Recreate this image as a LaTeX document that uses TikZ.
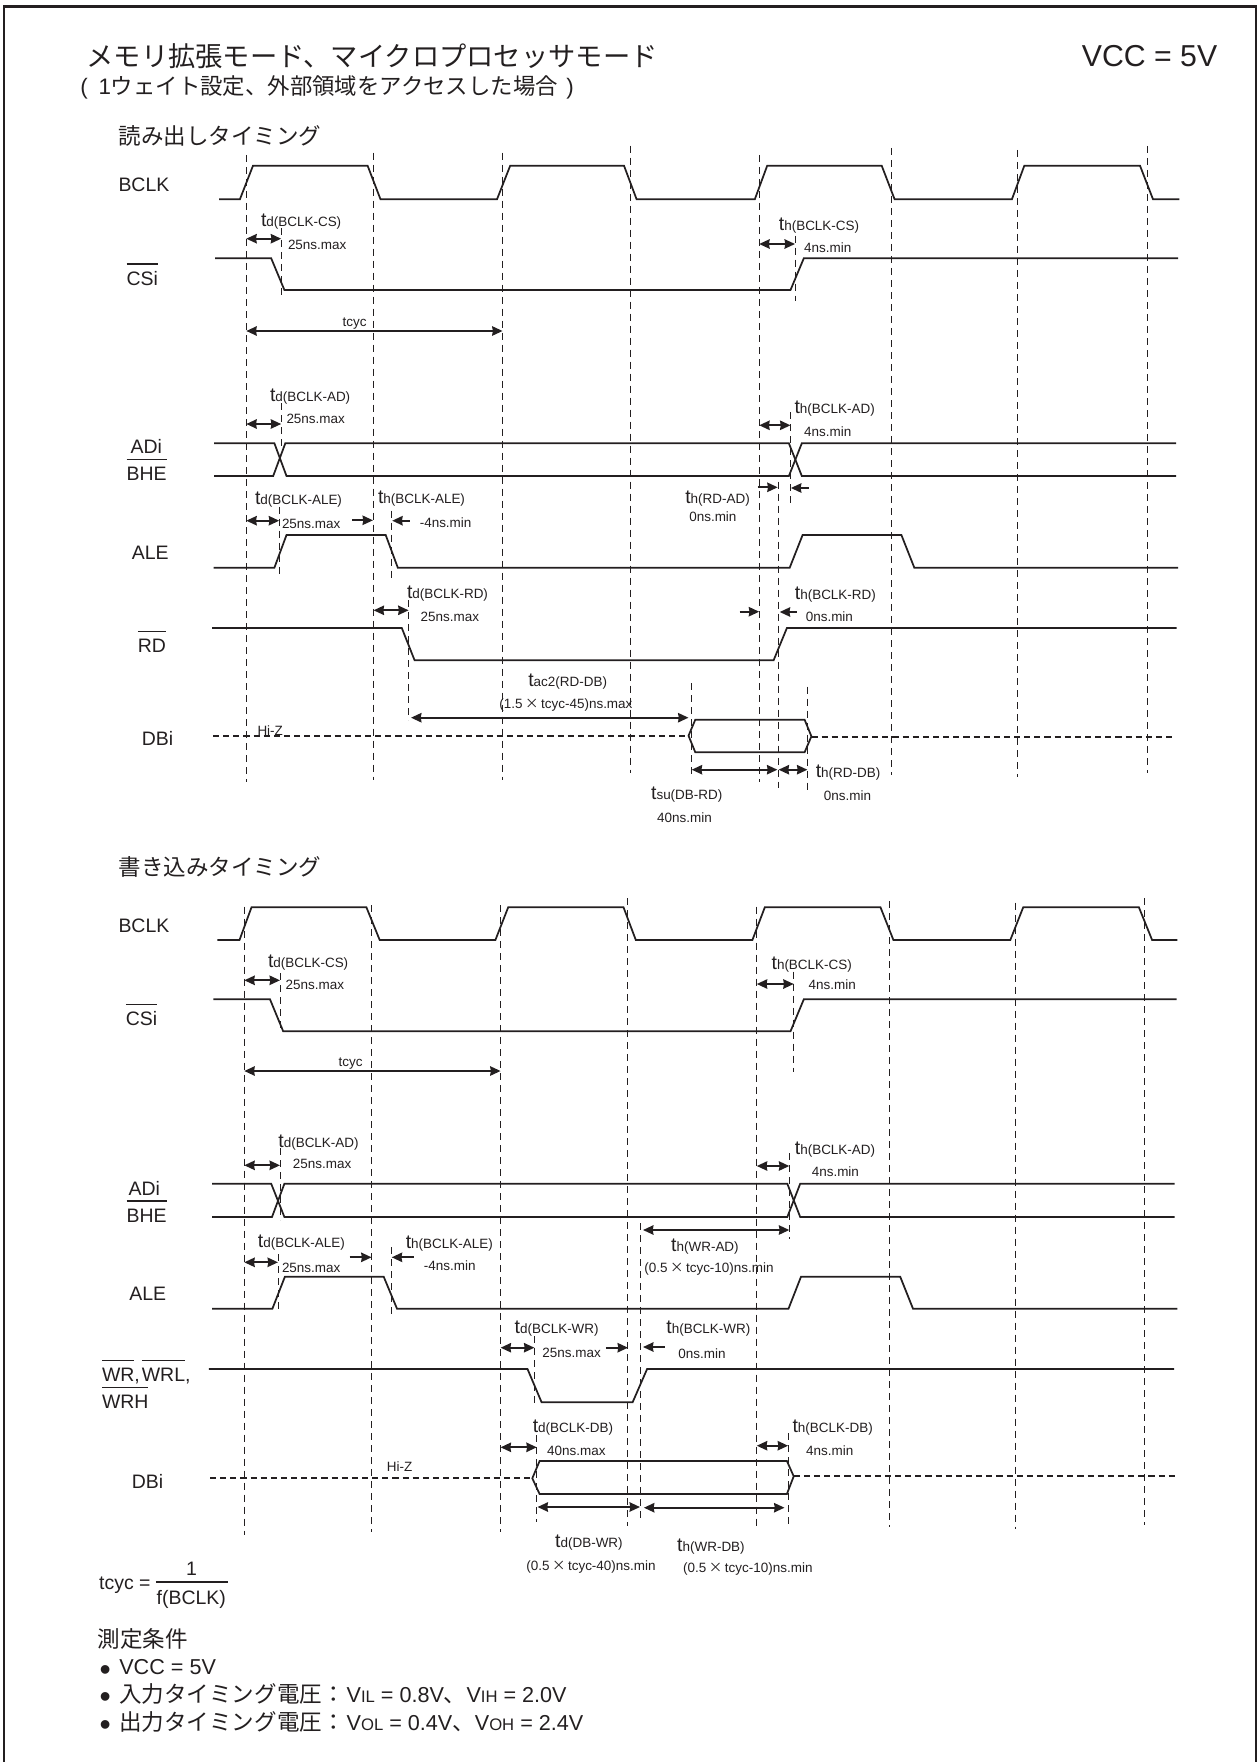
\documentclass[tikz,border=0pt]{standalone}
\usepackage{fontspec}
\usetikzlibrary{arrows.meta}
\setmainfont{Liberation Sans}
\newfontfamily\jp{Noto Sans CJK JP}
\definecolor{ink}{HTML}{231F20}
\newcommand\bigfs{\fontsize{14.6pt}{16pt}\selectfont}
\newcommand\smfs{\fontsize{10.1pt}{12pt}\selectfont}
\newcommand\tm[1]{{\bigfs t}{\smfs #1}}
\newcommand\ovl[1]{\leavevmode\setbox0=\hbox{#1}\rlap{\raisebox{15.2pt}{\rule{\wd0}{1.1pt}}}\box0}
\newcommand\vsub[1]{V{\fontsize{12.5pt}{12pt}\selectfont #1}}
\newcommand\tms{\hspace{1.9pt}{\jp ×}\hspace{1.9pt}}
\newcommand\jc{\fontsize{16.9pt}{18pt}\selectfont\jp}
\newcommand\fwc{\symbol{"FF1A}}
\tikzset{
  lab/.style={anchor=base west,inner sep=0pt,outer sep=0pt,text=ink,font=\bigfs},
  sm/.style={lab,font=\smfs},
  jtxt/.style={lab,font=\fontsize{16.9pt}{18pt}\selectfont\jp},
  cond/.style={lab,font=\fontsize{16.2pt}{18pt}\selectfont},
  bull/.style={lab,font=\fontsize{24pt}{24pt}\selectfont},
  wave/.style={draw=ink,line width=1.3pt,line join=miter},
  hiz/.style={draw=ink,line width=1.3pt,dash pattern=on 4.6pt off 3pt},
  guide/.style={draw=ink,line width=0.8pt,dash pattern=on 5.2pt off 3.8pt},
  dim/.style={draw=ink,line width=1.5pt,{Stealth[length=7.8pt,width=7pt,inset=0.5pt]}-{Stealth[length=7.8pt,width=7pt,inset=0.5pt]}},
  rarr/.style={draw=ink,line width=1.5pt,-{Stealth[length=7.8pt,width=7pt,inset=0.5pt]}},
  larr/.style={draw=ink,line width=1.5pt,{Stealth[length=7.8pt,width=7pt,inset=0.5pt]}-},
}
\begin{document}
\begin{tikzpicture}[x=0.75pt,y=-0.75pt]
\useasboundingbox (0,0) rectangle (1257,1762);
\draw[draw=ink,line width=1.9pt] (4,1762) -- (4,6.5) -- (1255.8,6.5) -- (1255.8,1762);
% titles
\node[lab,font=\fontsize{20.45pt}{22pt}\selectfont\jp] (title) at (86.6,67) {メモリ拡張モード、マイクロプロセッサモード};
\node[lab,font=\fontsize{16.8pt}{18pt}\selectfont] (subtitle) at (80.4,95) {(\hspace{8pt}1{\jp ウェイト設定、外部領域をアクセスした場合}\hspace{6.4pt})};
\node[lab,font=\fontsize{22.7pt}{24pt}\selectfont] (vcc) at (1081.8,66.7) {VCC = 5V};
\node[jtxt] (readh) at (118.5,144.7) {読み出しタイミング};
\node[jtxt] (writeh) at (118.5,875) {書き込みタイミング};
% ---------- READ guides
\foreach \x/\a/\b in {246.4/155/781.7,373.6/152.7/780,502.6/152.7/780,630.4/145.7/772.7,759.4/155/781.7,891.4/148/775,1017.9/150/777,1147.4/146/772.7,
 281.4/228/298,795.4/235.7/301,281.4/403/446,790.5/412/505,279.4/506.7/576,391.6/510.7/580,408.6/600/720,778.4/481.7/788.3,691.6/683.3/778.3,807.4/686.7/791.7}
  \draw[guide] (\x,\a) -- (\x,\b);
% READ waves
\draw[wave] (219,199.3) -- (239.9,199.3) -- (253,165.7) -- (367.6,165.7) -- (380.5,199.3) -- (497,199.3) -- (510.2,165.7) -- (624,165.7) -- (636.6,199.3) -- (754.8,199.3) -- (767.2,165.7) -- (881.7,165.7) -- (894.6,199.3) -- (1011.9,199.3) -- (1024.3,165.7) -- (1140,165.7) -- (1153,199.3) -- (1179.4,199.3);
\draw[wave] (215,258.3) -- (271.2,258.3) -- (284.4,290) -- (790.5,290) -- (803.8,258.3) -- (1178.2,258.3);
\draw[wave] (214,443.3) -- (274.4,443.3) -- (286.5,476) -- (788.9,476) -- (801.8,443.3) -- (1176,443.3);
\draw[wave] (214,476) -- (273.2,476) -- (285.3,443.3) -- (788.9,443.3) -- (801.8,476) -- (1176,476);
\draw[wave] (213.7,567.7) -- (274.4,567.7) -- (286.5,535) -- (385.7,535) -- (397.8,567.7) -- (789.7,567.7) -- (802.6,535) -- (901.4,535) -- (914.3,567.7) -- (1178.2,567.7);
\draw[wave] (212,628) -- (401.8,628) -- (414.6,660.3) -- (773.6,660.3) -- (786.9,628) -- (1176.6,628);
\draw[hiz] (213,735.7) -- (688.5,735.7);
\draw[wave] (688.5,735.7) -- (695.3,719.7) -- (804.6,719.7) -- (811.4,736.3) -- (804.6,752.3) -- (695.3,752.3) -- cycle;
\draw[hiz] (811.4,736.7) -- (1175.4,736.7);
% READ signal labels
\node[lab] (rclk) at (118.5,191.7) {BCLK};
\node[lab] (rcs) at (126.6,285) {\ovl{CSi}};
\node[lab] (rad) at (130.6,453.3) {ADi};
\node[lab] (rbhe) at (126.6,480.7) {\ovl{BHE}};
\node[lab] (rale) at (131.8,559.3) {ALE};
\node[lab] (rrd) at (137.8,652.7) {\ovl{RD}};
\node[lab] (rdb) at (141.8,745) {DBi};
\node[sm] (rhiz) at (257.5,735) {Hi-Z};
% READ dims
\draw[dim] (246.3,238.7) -- (281.2,238.7);
\draw[dim] (759.2,244) -- (795,244);
\draw[dim] (246.3,331) -- (502.6,331);
\draw[dim] (246.3,424) -- (281.2,424);
\draw[dim] (759.2,425.3) -- (790.5,425.3);
\draw[dim] (246.3,520.7) -- (279.2,520.7);
\draw[rarr] (352,520.3) -- (373,520.3);
\draw[larr] (392.2,520.7) -- (409.8,520.7);
\draw[dim] (373.6,610.3) -- (408.6,610.3);
\draw[rarr] (757.6,487.3) -- (777.7,487.3);
\draw[larr] (790.9,488) -- (809,488);
\draw[rarr] (739.5,611.7) -- (759.2,611.7);
\draw[larr] (779.7,612) -- (797,612);
\draw[dim] (411,717.7) -- (688.5,717.7);
\draw[dim] (691.7,769.7) -- (777.4,769.7);
\draw[dim] (778.6,769.7) -- (807.4,769.7);
% READ timing labels
\node[lab] (r1) at (261,226.7) {\tm{d(BCLK-CS)}};
\node[sm] (r2) at (288,249) {25ns.max};
\node[lab] (r3) at (778.9,230.3) {\tm{h(BCLK-CS)}};
\node[sm] (r4) at (804.2,252.3) {4ns.min};
\node[sm] (r5) at (342.7,326) {tcyc};
\node[lab] (r6) at (270,401.7) {\tm{d(BCLK-AD)}};
\node[sm] (r7) at (286.5,423.3) {25ns.max};
\node[lab] (r8) at (794.5,413.3) {\tm{h(BCLK-AD)}};
\node[sm] (r9) at (804.2,436.7) {4ns.min};
\node[lab] (r10) at (255,504.3) {\tm{d(BCLK-ALE)}};
\node[sm] (r11) at (282,528.3) {25ns.max};
\node[lab] (r12) at (378,503.3) {\tm{h(BCLK-ALE)}};
\node[sm] (r13) at (419.8,527.3) {-4ns.min};
\node[lab] (r14) at (685.3,503.3) {\tm{h(RD-AD)}};
\node[sm] (r15) at (689.3,521.7) {0ns.min};
\node[lab] (r16) at (407,598.3) {\tm{d(BCLK-RD)}};
\node[sm] (r17) at (420.7,621) {25ns.max};
\node[lab] (r18) at (794.9,599.3) {\tm{h(BCLK-RD)}};
\node[sm] (r19) at (805.8,621) {0ns.min};
\node[lab] (r20) at (528.3,686.7) {\tm{ac2(RD-DB)}};
\node[sm] (r21) at (499.4,708.3) {(1.5\tms tcyc-45)ns.max};
\node[lab] (r22) at (651.1,799) {\tm{su(DB-RD)}};
\node[sm] (r23) at (657.1,822.7) {40ns.min};
\node[lab] (r24) at (815.8,777.3) {\tm{h(RD-DB)}};
\node[sm] (r25) at (823.9,800) {0ns.min};
% ---------- WRITE guides
\foreach \x/\a/\b in {244.4/906.7/1535,371.6/905/1531.7,500.6/905/1531.7,627.6/898.3/1526,756.6/906.7/1528.3,889.4/901/1527.3,1015.5/902.7/1529.3,1144.6/898.3/1525,
 280.4/973.3/1033,793.6/971.7/1071.7,280.4/1148/1220,789.4/1153.3/1239.3,640.4/1223.3/1518.3,278.4/1254/1313.3,391.4/1247.3/1315.7,534.4/1336/1407.3,536.6/1435/1521.7,788.4/1433.3/1528.3}
  \draw[guide] (\x,\a) -- (\x,\b);
% WRITE waves
\draw[wave] (217.4,940) -- (239.5,940) -- (251.5,907.3) -- (366.4,907.3) -- (379.7,940) -- (495.4,940) -- (508.2,907.3) -- (623.5,907.3) -- (635.8,940) -- (752.4,940) -- (764.8,907.3) -- (880.5,907.3) -- (893.4,940) -- (1010.3,940) -- (1023.2,907.3) -- (1138.9,907.3) -- (1152.1,940) -- (1177.4,940);
\draw[wave] (213.3,999.3) -- (270,999.3) -- (283.2,1031.3) -- (790.5,1031.3) -- (803.8,999.3) -- (1176.6,999.3);
\draw[wave] (212.1,1183.7) -- (271.2,1183.7) -- (284.4,1217) -- (787.3,1217) -- (800.2,1183.7) -- (1174.6,1183.7);
\draw[wave] (212.1,1217) -- (272,1217) -- (284.4,1183.7) -- (787.3,1183.7) -- (800.2,1217) -- (1174.6,1217);
\draw[wave] (212.1,1308.7) -- (272.4,1308.7) -- (284.9,1276.7) -- (383.7,1276.7) -- (397,1308.7) -- (788.5,1308.7) -- (801,1276.7) -- (900.2,1276.7) -- (913,1308.7) -- (1177.4,1308.7);
\draw[wave] (208.9,1369) -- (527.5,1369) -- (541.6,1402.3) -- (632.6,1402.3) -- (647.1,1369) -- (1174.2,1369);
\draw[hiz] (210,1478.3) -- (532.3,1478.3);
\draw[wave] (532.3,1478.3) -- (539.6,1461) -- (786.9,1461) -- (793.7,1476.3) -- (786.9,1494) -- (539.6,1494) -- cycle;
\draw[hiz] (793.7,1476.3) -- (1177.4,1476.3);
% WRITE signal labels
\node[lab] (wclk) at (118.5,932.7) {BCLK};
\node[lab] (wcs) at (125.8,1025.7) {\ovl{CSi}};
\node[lab] (wad) at (128.6,1195) {ADi};
\node[lab] (wbhe) at (126.6,1222) {\ovl{BHE}};
\node[lab] (wale) at (129.4,1300.7) {ALE};
\node[lab] (wwr) at (102,1381.7) {\ovl{WR},\hspace{1.5pt}\ovl{WRL},};
\node[lab] (wwrh) at (102,1408.3) {\ovl{WRH}};
\node[lab] (wdb) at (131.8,1488.3) {DBi};
\node[sm] (whiz) at (386.9,1471) {Hi-Z};
% WRITE dims
\draw[dim] (244.3,980.3) -- (280,980.3);
\draw[dim] (756.8,984) -- (793.7,984);
\draw[dim] (244.3,1071) -- (500.6,1071);
\draw[dim] (244.3,1165.3) -- (280,1165.3);
\draw[dim] (756.8,1166) -- (789.3,1166);
\draw[dim] (643,1230) -- (789.3,1230);
\draw[dim] (244.3,1262.3) -- (278,1262.3);
\draw[rarr] (349.5,1257.3) -- (371.6,1257.3);
\draw[larr] (391.7,1257.3) -- (413.8,1257.3);
\draw[dim] (500.6,1347.7) -- (534.4,1347.7);
\draw[rarr] (605.9,1347.7) -- (628,1347.7);
\draw[larr] (643,1347) -- (665.2,1347);
\draw[dim] (500.6,1447.3) -- (536.8,1447.3);
\draw[dim] (756.8,1445.7) -- (788.1,1445.7);
\draw[dim] (537.5,1507) -- (640,1507);
\draw[dim] (643.9,1507.7) -- (784.5,1507.7);
% WRITE timing labels
\node[lab] (w1) at (268,967.3) {\tm{d(BCLK-CS)}};
\node[sm] (w2) at (285.7,989) {25ns.max};
\node[lab] (w3) at (771.6,969.3) {\tm{h(BCLK-CS)}};
\node[sm] (w4) at (808.6,989) {4ns.min};
\node[sm] (w5) at (338.7,1066.7) {tcyc};
\node[lab] (w6) at (278.4,1147.3) {\tm{d(BCLK-AD)}};
\node[sm] (w7) at (292.9,1168.3) {25ns.max};
\node[lab] (w8) at (794.9,1154) {\tm{h(BCLK-AD)}};
\node[sm] (w9) at (811.8,1176) {4ns.min};
\node[lab] (w10) at (671.2,1251) {\tm{h(WR-AD)}};
\node[sm] (w11) at (644.3,1272.3) {(0.5\tms tcyc-10)ns.min};
\node[lab] (w12) at (257.9,1247.3) {\tm{d(BCLK-ALE)}};
\node[sm] (w13) at (282,1272.3) {25ns.max};
\node[lab] (w14) at (405.8,1248.3) {\tm{h(BCLK-ALE)}};
\node[sm] (w15) at (423.9,1270) {-4ns.min};
\node[lab] (w16) at (514.7,1333.3) {\tm{d(BCLK-WR)}};
\node[sm] (w17) at (542.4,1357.7) {25ns.max};
\node[lab] (w18) at (666.4,1333.3) {\tm{h(BCLK-WR)}};
\node[sm] (w19) at (678.4,1358.7) {0ns.min};
\node[lab] (w20) at (532.8,1432.3) {\tm{d(BCLK-DB)}};
\node[sm] (w21) at (547.2,1455) {40ns.max};
\node[lab] (w22) at (792.5,1432.7) {\tm{h(BCLK-DB)}};
\node[sm] (w23) at (806.2,1455) {4ns.min};
\node[lab] (w24) at (555.2,1547.3) {\tm{d(DB-WR)}};
\node[sm] (w25) at (526.3,1570.7) {(0.5\tms tcyc-40)ns.min};
\node[lab] (w26) at (677.2,1551) {\tm{h(WR-DB)}};
\node[sm] (w27) at (683.2,1572.3) {(0.5\tms tcyc-10)ns.min};
% formula
\node[lab] (feq) at (99.2,1589.3) {tcyc =};
\node[lab] (fnum) at (186,1575) {1};
\node[lab] (fden) at (156.7,1604.3) {f(BCLK)};
\draw[draw=ink,line width=1.2pt] (155.9,1581.7) -- (227.8,1581.7);
% conditions
\node[jtxt] (chead) at (97.6,1647) {測定条件};
\node[bull] (b1) at (99.6,1680) {•};
\node[cond] (c1) at (119.3,1674.3) {VCC = 5V};
\node[bull] (b2) at (99.6,1707.5) {•};
\node[cond] (c2) at (119.3,1702) {{\jc 入力タイミング電圧\fwc}\hspace{1.5pt}\vsub{IL} = 0.8V{\jc 、}\vsub{IH} = 2.0V};
\node[bull] (b3) at (99.6,1735) {•};
\node[cond] (c3) at (119.3,1730) {{\jc 出力タイミング電圧\fwc}\hspace{1.5pt}\vsub{OL} = 0.4V{\jc 、}\vsub{OH} = 2.4V};
\end{tikzpicture}
\end{document}
